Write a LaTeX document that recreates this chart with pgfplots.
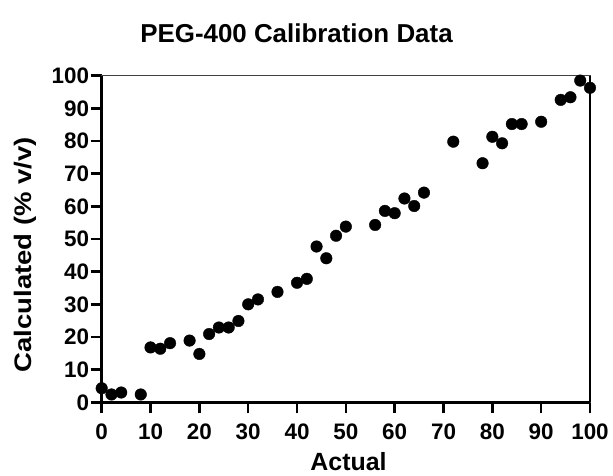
\documentclass[border=0pt]{standalone}
\usepackage{fontspec}
\setmainfont{Liberation Sans}
\usepackage{pgfplots}
\pgfplotsset{compat=1.18}
\begin{document}
\begin{tikzpicture}
\begin{axis}[
  at={(0,0)}, anchor=south west,
  scale only axis,
  width=488.3bp, height=326.6bp,
  xmin=0, xmax=100, ymin=0, ymax=100,
  xtick={0,10,...,100}, ytick={0,10,...,100},
  clip=false,
  xtick pos=bottom, ytick pos=left,
  tick align=outside,
  major tick length=11bp,
  major tick style={black, line width=2.4bp},
  axis line style={line width=1.2bp, draw=black!75},
  /pgf/number format/assume math mode=true,
  tick label style={font=\fontsize{22.5}{24}\selectfont\bfseries, inner sep=0pt},
  xticklabel style={anchor=base, yshift=-26bp},
  yticklabel style={anchor=east, xshift=-1.5bp},
]
\draw[line width=2.8bp, black] (rel axis cs:0,1) -- (rel axis cs:0,0) -- (rel axis cs:1,0);
\draw[line width=2bp, black] (rel axis cs:1,0) -- (rel axis cs:1,1);
\addplot[only marks, mark=*, mark size=5.8bp, black, mark options={fill=black}] coordinates {
(0,4.3) (2,2.4) (4,3.0) (8,2.4) (10,16.8) (12,16.4) (14,18.1) (18,18.9) (20,14.8)
(22,20.9) (24,22.9) (26,22.9) (28,24.9) (30,30.0) (32,31.5) (36,33.8) (40,36.6)
(42,37.8) (44,47.7) (46,44.1) (48,51.0) (50,53.8) (56,54.3) (58,58.6) (60,57.9)
(62,62.4) (64,60.1) (66,64.2) (72,79.8) (78,73.2) (80,81.3) (82,79.3) (84,85.2)
(86,85.2) (90,85.9) (94,92.6) (96,93.4) (98,98.5) (100,96.3)
};
\end{axis}
\node[anchor=base, font=\fontsize{26}{28}\selectfont\bfseries, inner sep=0pt] at (194.8bp,359.3bp) {PEG-400 Calibration Data};
\node[anchor=base, font=\fontsize{25}{27}\selectfont\bfseries, inner sep=0pt] at (246.8bp,-68.5bp) {Actual};
\node[anchor=base, rotate=90, font=\fontsize{24}{26}\selectfont\bfseries, inner sep=0pt] at (-70bp,147.5bp) {\scalebox{1.15}[1]{Calculated (\% v/v)}};
\pgfresetboundingbox
\path[use as bounding box] (-101.7bp,-73.7bp) rectangle (511.3bp,402.3bp);
\end{tikzpicture}
\end{document}
